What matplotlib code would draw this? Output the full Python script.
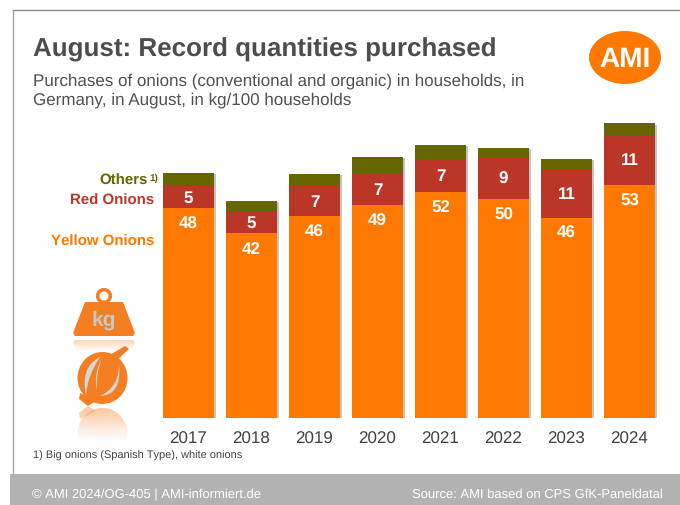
import numpy as np
import matplotlib
matplotlib.use("Agg")
import matplotlib.pyplot as plt
from matplotlib import patches as mp, patheffects as pe
from matplotlib.path import Path

plt.rcParams['font.family'] = ['Liberation Sans', 'DejaVu Sans']
plt.rcParams['text.hinting'] = 'none'
plt.rcParams['text.hinting_factor'] = 1

years = ['2017', '2018', '2019', '2020', '2021', '2022', '2023', '2024']
yellow = [47.9, 42.3, 46.1, 48.6, 51.6, 50.1, 45.8, 53.3]
red = [5.2, 5.0, 6.9, 7.4, 7.4, 9.4, 10.8, 11.4]
others = [3.0, 2.4, 2.8, 3.7, 3.4, 2.3, 2.7, 2.7]
title = 'August: Record quantities purchased'
subtitle = ['Purchases of onions (conventional and organic) in households, in',
            'Germany, in August, in kg/100 households']
note = '1) Big onions (Spanish Type), white onions'
foot_left = '© AMI 2024/OG-405 | AMI-informiert.de'
foot_right = 'Source: AMI based on CPS GfK-Paneldatal'

ORANGE, RED, OLIVE = '#ff7900', '#ba3626', '#666600'
W, H = 680, 506
fig = plt.figure(figsize=(W/100, H/100), dpi=100, facecolor='white')

# page layer in pixel coordinates
bg = fig.add_axes([0, 0, 1, 1], zorder=0)
bg.set_xlim(0, W); bg.set_ylim(H, 0); bg.axis('off')
bg.plot([12.5, 12.5], [10.5, 475], color='#a8a8a8', lw=1)
bg.plot([12.5, 680], [10.5, 10.5], color='#8c8c8c', lw=1)
bg.add_patch(mp.Rectangle((10, 475), 670, 31, color='#b2b2b2', lw=0))
bg.text(33, 49.5, title, fontsize=18.75, fontweight='bold', color='#4d4d4d', va='center')
bg.text(33, 81, subtitle[0], fontsize=12.0, color='#505050', va='center')
bg.text(33, 100, subtitle[1], fontsize=12.0, color='#505050', va='center')
bg.text(33, 456, note, fontsize=8.2, color='#404040', va='center')
bg.text(32, 495, foot_left, fontsize=9.3, color='white', va='center')
bg.text(663, 495, foot_right, fontsize=9.3, color='white', va='center', ha='right')

# AMI logo
bg.add_patch(mp.Ellipse((625, 58.5), 72, 53, color=ORANGE, lw=0))
bg.text(625, 60, 'AMI', fontsize=20, fontweight='bold', color='white', ha='center', va='center')

# series labels
bg.text(148, 181, 'Others', fontsize=10.6, fontweight='bold', color=OLIVE, ha='right', va='center')
bg.text(149, 178, '1)', fontsize=7, fontweight='bold', color=OLIVE, ha='left', va='center')
bg.text(154.5, 200.5, 'Red Onions', fontsize=10.55, fontweight='bold', color=RED, ha='right', va='center')
bg.text(154.5, 241.5, 'Yellow Onions', fontsize=10.55, fontweight='bold', color=ORANGE, ha='right', va='center')

# icons
ICON = '#f47f22'
def weight(alpha=1.0, flip=None, z=3):
    pts = [(85, 303), (123, 303), (135, 334), (133, 337), (75, 337), (73, 334), (85, 303)]
    if flip is not None:
        pts = [(x, 2*flip - y) for x, y in pts]
    bg.add_patch(mp.Polygon(pts, closed=True, fc=ICON, ec='none', alpha=alpha, zorder=z))

def onion(flip=None, alpha=1.0, z=3):
    f = (lambda y: y) if flip is None else (lambda y: 2*flip - y)
    bg.add_patch(mp.Ellipse((102.5, f(379)), 50, 52, fc=ICON, ec='none', alpha=alpha, zorder=z))
    stem = [(108, f(357)), (125, f(347)), (129, f(350)), (116, f(362))]
    bg.add_patch(mp.Polygon(stem, closed=True, fc=ICON, ec='none', alpha=alpha, zorder=z))
    tip = [(80, f(394)), (96, f(402)), (88, f(407)), (79, f(400))]
    bg.add_patch(mp.Polygon(tip, closed=True, fc=ICON, ec='none', alpha=alpha, zorder=z))
    # thin curved highlights on the bulb
    codes = [Path.MOVETO, Path.CURVE3, Path.CURVE3, Path.CURVE3, Path.CURVE3]
    for a, b, c, d in [((100, 358), (80, 368), (86, 396), (87, 378)),
                       ((100, 397), (122, 396), (119, 366), (119, 388)),
                       ((102, 360), (96, 372), (97, 392), (93, 374))]:
        verts = [(a[0], f(a[1])), (b[0], f(b[1])), (c[0], f(c[1])), (d[0], f(d[1])), (a[0], f(a[1]))]
        bg.add_patch(mp.PathPatch(Path(verts, codes), fc='#d6d6d6', ec='none', alpha=alpha, zorder=z + 0.1))

weight(alpha=0.4, flip=339, z=1)
onion(flip=407, alpha=0.45, z=1)
fade = np.linspace(0, 1, 64)[:, None]
rgba = np.ones((64, 1, 4)); rgba[..., 3] = fade
bg.imshow(rgba, extent=(60, 150, 352, 338), aspect='auto', zorder=1.5)
bg.imshow(rgba, extent=(60, 150, 442, 407), aspect='auto', zorder=1.5)
bg.add_patch(mp.Rectangle((60, 352), 90, 55, fc='white', ec='none', zorder=1.6))
bg.add_patch(mp.Rectangle((60, 442), 90, 32, fc='white', ec='none', zorder=1.6))
bg.set_xlim(0, W); bg.set_ylim(H, 0)
weight()
bg.add_patch(mp.Circle((104, 297), 6.3, fc='white', ec=ICON, lw=2.6, zorder=3))
bg.text(104, 320, 'kg', fontsize=15, fontweight='bold', color='#c8c8c8', ha='center', va='center', zorder=4)
onion()

# bars
left, right, bottom, top = 157, 661, 419, 101
ax = fig.add_axes([left/W, 1 - bottom/H, (right-left)/W, (bottom-top)/H], zorder=2)
ax.patch.set_alpha(0)
x = np.arange(len(years))
y_a, r_a, o_a = map(np.array, (yellow, red, others))
shadow = [pe.SimplePatchShadow(offset=(1.5, -1), shadow_rgbFace='#888888', alpha=0.5), pe.Normal()]
ax.bar(x, y_a + r_a + o_a, 0.81, color=OLIVE, path_effects=shadow)
ax.bar(x, r_a, 0.81, bottom=y_a, color=RED)
ax.bar(x, y_a, 0.81, color=ORANGE)
ax.set_xlim(-0.5, 7.5)
ax.set_ylim(0, (bottom-top)/4.375)
ax.set_xticks(x, years)
ax.set_yticks([])
ax.tick_params(axis='x', length=0, pad=9, labelsize=12, labelcolor='#404040')
for s in ax.spines.values():
    s.set_visible(False)
for i in x:
    ax.text(i, y_a[i] - 3.5, f'{round(y_a[i])}', color='white', fontsize=12, fontweight='bold', ha='center', va='center')
    ax.text(i, y_a[i] + r_a[i]/2, f'{round(r_a[i])}', color='white', fontsize=12, fontweight='bold', ha='center', va='center')

fig.savefig('out.png', dpi=100)
